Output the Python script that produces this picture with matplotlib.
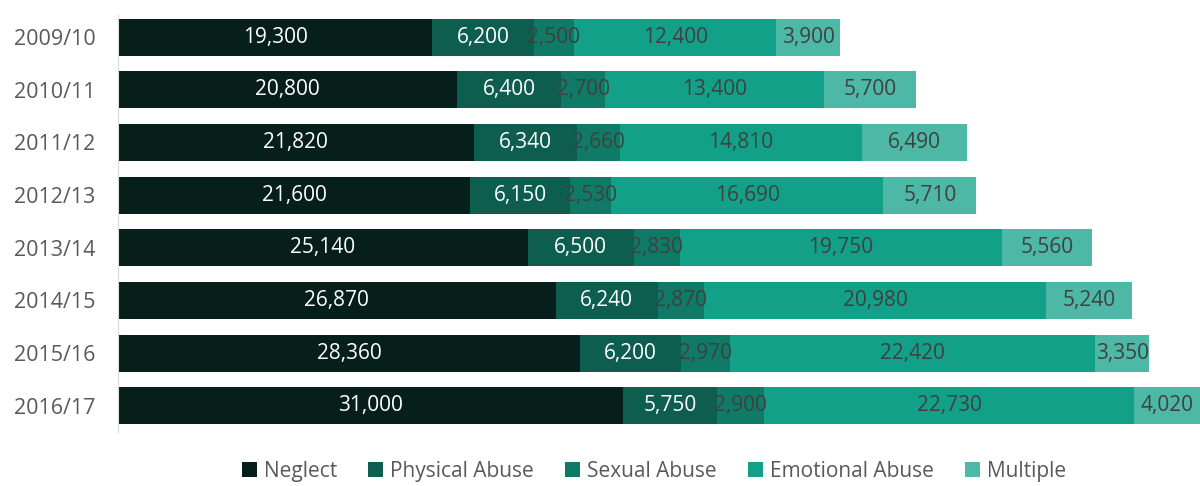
import numpy as np
import matplotlib
matplotlib.use("Agg")
import matplotlib.pyplot as plt

plt.rcParams['font.family'] = ['Open Sans', 'DejaVu Sans']

years = ['2009/10', '2010/11', '2011/12', '2012/13', '2013/14', '2014/15', '2015/16', '2016/17']
categories = ['Neglect', 'Physical Abuse', 'Sexual Abuse', 'Emotional Abuse', 'Multiple']

neglect = [19300, 20800, 21820, 21600, 25140, 26870, 28360, 31000]
physical = [6200, 6400, 6340, 6150, 6500, 6240, 6200, 5750]
sexual = [2500, 2700, 2660, 2530, 2830, 2870, 2970, 2900]
emotional = [12400, 13400, 14810, 16690, 19750, 20980, 22420, 22730]
multiple = [3900, 5700, 6490, 5710, 5560, 5240, 3350, 4020]

series = [neglect, physical, sexual, emotional, multiple]
colors = ['#061f1b', '#0e5e4f', '#0f7a66', '#13a088', '#4db8a5']
label_colors = ['white', 'white', '#404040', '#404040', '#404040']

fig = plt.figure(figsize=(12, 4.86), dpi=100)
ax = fig.add_axes([0.0983, 0.111, 0.9017, 0.858])

y = np.arange(len(years))
left = np.zeros(len(years))
for name, vals, c, lc in zip(categories, series, colors, label_colors):
    vals = np.array(vals)
    bars = ax.barh(y, vals, left=left, height=0.7, color=c, label=name)
    labels = [f'{v:,}' for v in vals]
    ax.bar_label(bars, labels=labels, label_type='center', color=lc, fontsize=15)
    left += vals

ax.set_ylim(7.5, -0.42)
ax.set_xlim(0, 66400)
ax.set_yticks(y)
ax.set_yticklabels(years, fontsize=15.5, color='#595959')
ax.tick_params(axis='y', length=0, pad=16)
ax.set_xticks([])
for s in ['top', 'right', 'bottom']:
    ax.spines[s].set_visible(False)
ax.spines['left'].set_color('#d9d9d9')

fig.legend(loc='lower center', bbox_to_anchor=(0.545, -0.03), ncol=5, frameon=False,
           fontsize=15, handlelength=0.7, handleheight=0.7, handletextpad=0.35,
           columnspacing=1.5, labelcolor='#595959')

fig.savefig('out.png', dpi=100)
